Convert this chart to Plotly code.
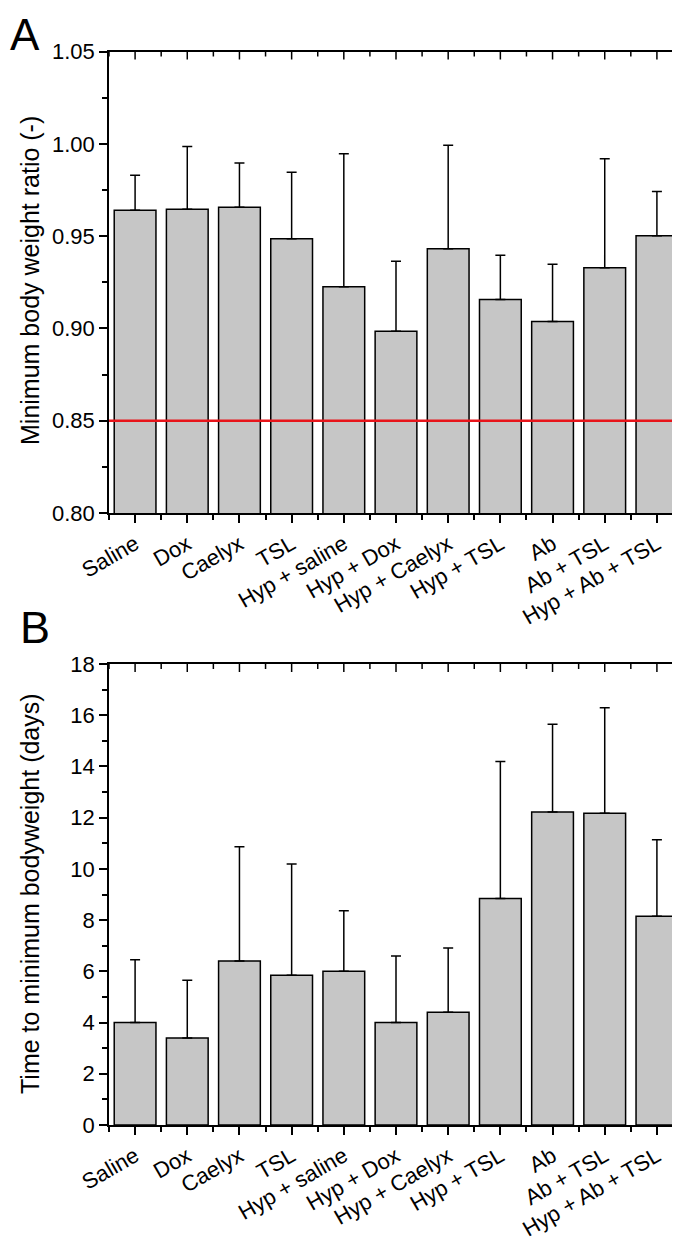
import plotly.graph_objects as go

categories = ["Saline", "Dox", "Caelyx", "TSL", "Hyp + saline", "Hyp + Dox",
              "Hyp + Caelyx", "Hyp + TSL", "Ab", "Ab + TSL", "Hyp + Ab + TSL"]

ratio_mean = [0.964, 0.9645, 0.9656, 0.9486, 0.9226, 0.8984, 0.9432, 0.9156, 0.9038, 0.9329, 0.9502]
ratio_sd = [0.019, 0.034, 0.024, 0.036, 0.072, 0.038, 0.056, 0.024, 0.031, 0.059, 0.024]
threshold = 0.85

days_mean = [4.0, 3.4, 6.4, 5.85, 6.0, 4.0, 4.4, 8.84, 12.22, 12.17, 8.15]
days_sd = [2.45, 2.25, 4.46, 4.34, 2.37, 2.6, 2.51, 5.35, 3.43, 4.12, 2.99]

ratio_ticks = [0.80, 0.85, 0.90, 0.95, 1.00, 1.05]
days_ticks = [0, 2, 4, 6, 8, 10, 12, 14, 16, 18]

xpos = list(range(1, len(categories) + 1))
xminor = [p - 0.5 for p in xpos] + [xpos[-1] + 0.5]
xrange_ = [0.5, len(categories) + 0.5]
ratio_minor = [(a + b) / 2 for a, b in zip(ratio_ticks[:-1], ratio_ticks[1:])]
days_minor = [(a + b) / 2 for a, b in zip(days_ticks[:-1], days_ticks[1:])]

FONT = "Liberation Sans, Arial, sans-serif"
BAR_FILL = "#c6c6c6"
W = 680
H = 1242
L = 101
R = W - 675

fig = go.Figure()


def bar(mean, sd, xa, ya):
    return go.Bar(
        x=xpos, y=mean, width=0.8,
        marker=dict(color=BAR_FILL, line=dict(color="black", width=1.5)),
        error_y=dict(type="data", array=sd, arrayminus=[0] * len(sd), symmetric=False,
                     color="black", thickness=1.5, width=5),
        xaxis=xa, yaxis=ya, showlegend=False, hoverinfo="skip",
    )


fig.add_trace(bar(ratio_mean, ratio_sd, "x", "y"))
fig.add_trace(bar(days_mean, days_sd, "x2", "y2"))

domA = [1 - 505 / H, 1 - 43.5 / H]
domB = [1 - 1117 / H, 1 - 656 / H]

tickfont = dict(family=FONT, size=22, color="black")


def xax(anchor):
    return dict(range=xrange_, domain=[0, 1], tickmode="array", tickvals=xpos, ticktext=categories,
                ticks="outside", ticklen=8, tickwidth=1.5, tickcolor="black",
                showline=True, mirror=True, linecolor="black", linewidth=1.5,
                showgrid=False, zeroline=False, anchor=anchor, tickangle=-30,
                tickfont=tickfont,
                minor=dict(tick0=0.5, dtick=1, ticks="outside", ticklen=5, tickwidth=1.5,
                           tickcolor="black", showgrid=False))


def yax(rng, tv, dtick_minor, dom, anchor, fmt):
    return dict(range=rng, domain=dom, anchor=anchor, tickmode="array", tickvals=tv,
                ticks="outside", ticklen=8, tickwidth=1.5, tickcolor="black",
                showline=True, mirror=True, linecolor="black", linewidth=1.5,
                showgrid=False, zeroline=False, tickformat=fmt, tickfont=tickfont,
                minor=dict(tick0=rng[0], dtick=dtick_minor, ticks="outside", ticklen=5,
                           tickwidth=1.5, tickcolor="black", showgrid=False))


rA = [ratio_ticks[0], ratio_ticks[-1]]
rB = [days_ticks[0], days_ticks[-1]]

fig.update_layout(
    width=W, height=H,
    margin=dict(l=L, r=R, t=0, b=0, autoexpand=False),
    plot_bgcolor="white", paper_bgcolor="white",
    font=dict(family=FONT, color="black"),
    xaxis=xax("y"), yaxis=yax(rA, ratio_ticks, 0.025, domA, "x", ".2f"),
    xaxis2=xax("y2"), yaxis2=yax(rB, days_ticks, 1, domB, "x2", "d"),
    bargap=0.2,
)

# inward ticks on the top and right frame edges
tick_line = dict(color="black", width=1.5)


def frame_ticks(xref, yref, yvals_major, yvals_minor):
    for vals, ln in ((xpos, 8), (xminor, 5)):
        for v in vals:
            fig.add_shape(type="line", xref=xref, yref=yref + " domain", x0=v, x1=v,
                          ysizemode="pixel", yanchor=1, y0=0, y1=-ln, line=tick_line,
                          layer="above")
    for vals, ln in ((yvals_major, 8), (yvals_minor, 5)):
        for v in vals:
            fig.add_shape(type="line", xref=xref + " domain", yref=yref, y0=v, y1=v,
                          xsizemode="pixel", xanchor=1, x0=0, x1=-ln, line=tick_line,
                          layer="above")


frame_ticks("x", "y", ratio_ticks, ratio_minor)
frame_ticks("x2", "y2", days_ticks, days_minor)

# threshold line
fig.add_shape(type="line", xref="x domain", yref="y", x0=0, x1=1, y0=threshold, y1=threshold,
              line=dict(color="#e8141a", width=2.5), layer="above")

plot_w = W - L - R


def px2paper_x(px):
    return (px - L) / plot_w


def px2paper_y(py):
    return 1 - py / H


fig.add_annotation(text="Minimum body weight ratio (-)", xref="paper", yref="paper",
                   x=px2paper_x(22), y=px2paper_y(273), textangle=-90, showarrow=False,
                   xanchor="center", yanchor="middle",
                   font=dict(family=FONT, size=25, color="black"))
fig.add_annotation(text="Time to minimum bodyweight (days)", xref="paper", yref="paper",
                   x=px2paper_x(22), y=px2paper_y(886), textangle=-90, showarrow=False,
                   xanchor="center", yanchor="middle",
                   font=dict(family=FONT, size=25, color="black"))
fig.add_annotation(text="A", xref="paper", yref="paper", x=px2paper_x(0), y=px2paper_y(0),
                   showarrow=False, xanchor="left", yanchor="top",
                   font=dict(family=FONT, size=44, color="black"))
fig.add_annotation(text="B", xref="paper", yref="paper", x=px2paper_x(10), y=px2paper_y(619),
                   showarrow=False, xanchor="left", yanchor="middle",
                   font=dict(family=FONT, size=45, color="black"))

fig.write_html("out.html")
